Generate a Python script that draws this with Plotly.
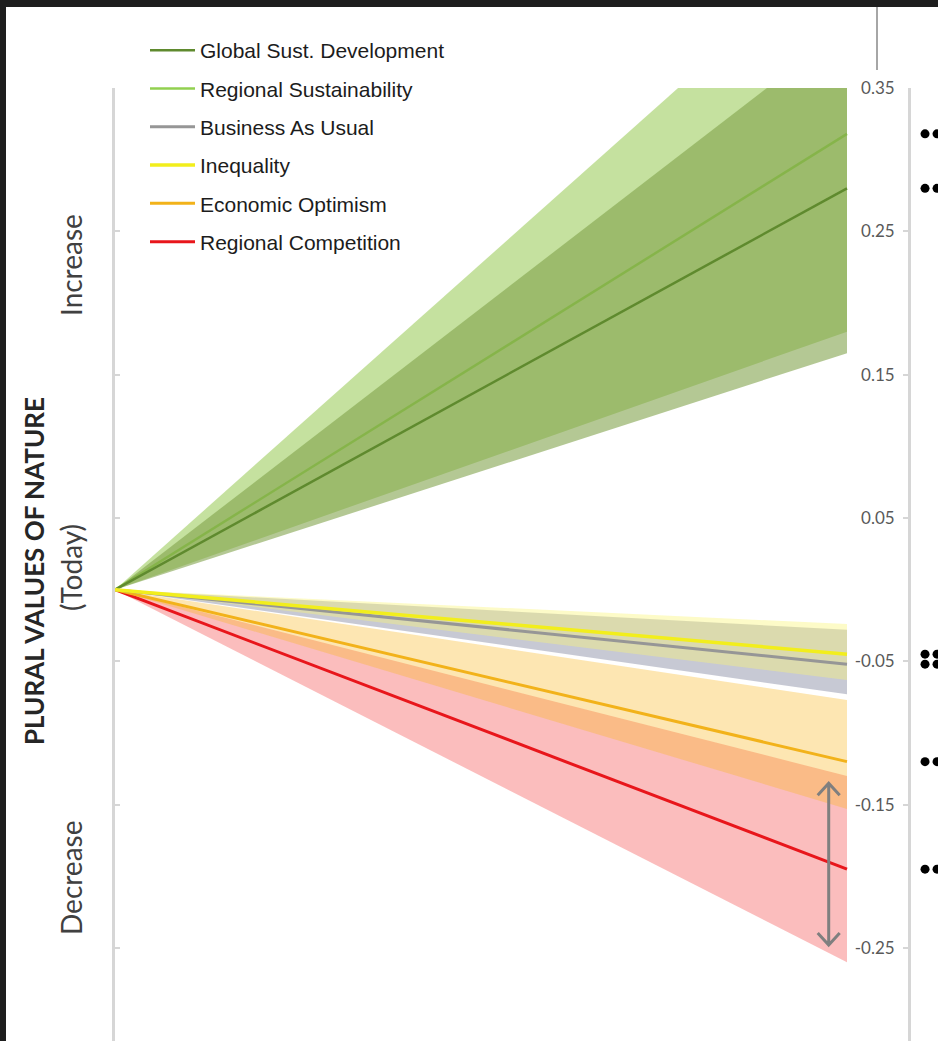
import plotly.graph_objects as go

# ---------------- data ----------------
scenarios = ["Global Sust. Development", "Regional Sustainability", "Business As Usual",
             "Inequality", "Economic Optimism", "Regional Competition"]
x_today, x_end = 0.0, 1.0                # today -> end of projection
start_value = 0.0                        # all scenarios start from today's value
end_mean = [0.280, 0.318, -0.052, -0.045, -0.120, -0.195]
end_low = [0.165, 0.180, -0.073, -0.063, -0.153, -0.260]
end_high = [0.393, 0.455, -0.028, -0.024, -0.077, -0.130]

tick_vals = [-0.25, -0.15, -0.05, 0.05, 0.15, 0.25, 0.35]
tick_text = ["-0.25", "-0.15", "-0.05", "0.05", "0.15", "0.25", "0.35"]

# uncertainty arrow on the Regional Competition band
arrow_x = 0.975
arrow_top, arrow_bottom = -0.135, -0.248

# ---------------- styles ----------------
line_colors = ["#5f8a2e", "#92d050", "#969696", "#f2ee1c", "#f2b21a", "#e8161b"]
line_widths = [2.5, 2.5, 3, 3.5, 3, 3]
band_colors = ["rgba(126,160,70,0.58)", "rgba(150,200,80,0.55)", "rgba(130,135,160,0.45)",
               "rgba(250,245,118,0.40)", "rgba(249,183,34,0.35)", "rgba(245,75,75,0.37)"]
draw_order = [1, 0, 5, 4, 2, 3]
lines_under_bands = [1]          # Regional Sustainability line shows through the GSD band
line_order = [0, 5, 4, 2, 3]
dot_columns = [1.1066, 1.123]

W, H = 938, 1041
ML, MR, MT, MB = 115, 0, 88, 0
PW, PH = W - ML - MR, H - MT - MB
px_per_unit_x = 732.0
px_per_unit_y = 1433.3
y_range = [0.35 - PH / px_per_unit_y, 0.35]
x_range = [0, PW / px_per_unit_x]
right_axis_px = 909


def px_x(p):
    return (p - ML) / PW


def px_y(p):
    return (H - MB - p) / PH


fig = go.Figure()


def add_line(i):
    fig.add_trace(go.Scatter(
        x=[x_today, x_end], y=[start_value, end_mean[i]], mode="lines",
        line=dict(color=line_colors[i], width=line_widths[i]),
        name=scenarios[i], legendgroup=scenarios[i], legendrank=i + 1))


for i in draw_order:
    fig.add_trace(go.Scatter(
        x=[x_today, x_end, x_end, x_today],
        y=[start_value, end_high[i], end_low[i], start_value],
        fill="toself", fillcolor=band_colors[i], mode="lines", line=dict(width=0),
        showlegend=False, hoverinfo="skip", legendgroup=scenarios[i]))
    if i in lines_under_bands:
        add_line(i)
for i in line_order:
    add_line(i)

for cx in dot_columns:
    fig.add_trace(go.Scatter(
        x=[cx] * len(end_mean), y=end_mean, mode="markers",
        marker=dict(color="black", size=9), cliponaxis=False,
        showlegend=False, hoverinfo="skip", yaxis="y2"))

axis_grey = "#d6d6d6"
fig.update_layout(
    width=W, height=H,
    margin=dict(l=ML, r=MR, t=MT, b=MB),
    paper_bgcolor="#1e1e1e",
    plot_bgcolor="rgba(0,0,0,0)",
    xaxis=dict(range=x_range, visible=False, fixedrange=True),
    yaxis=dict(range=y_range, showline=True, linecolor=axis_grey, linewidth=2.5,
               ticks="inside", ticklen=5, tickcolor=axis_grey, tickwidth=1.5,
               tickvals=tick_vals, showticklabels=False, showgrid=False, zeroline=False),
    yaxis2=dict(range=y_range, overlaying="y", side="right", anchor="free",
                position=px_x(right_axis_px),
                showline=True, linecolor=axis_grey, linewidth=2.5,
                ticks="inside", ticklen=5, tickcolor=axis_grey, tickwidth=1.5,
                tickvals=tick_vals, ticktext=tick_text, ticklabelposition="inside",
                ticklabeloverflow="allow", ticklabelstandoff=9,
                tickfont=dict(family="Lato", size=17, color="#595959"),
                showgrid=False, zeroline=False),
    legend=dict(x=px_x(145), y=1 + (MT - 30) / PH, xanchor="left", yanchor="top",
                font=dict(family="Liberation Sans", size=21, color="#1c1c1c"),
                bgcolor="rgba(0,0,0,0)", itemwidth=45, tracegroupgap=8),
    showlegend=True,
)

shapes = [
    dict(type="rect", xref="paper", yref="paper", x0=px_x(6), x1=px_x(W + 2),
         y0=px_y(H + 2), y1=px_y(7), fillcolor="white", line=dict(width=0), layer="below"),
    dict(type="line", xref="paper", yref="paper", x0=px_x(877), x1=px_x(877),
         y0=px_y(7), y1=px_y(70), line=dict(color="#a6a6a6", width=2)),
]
dx, dy = 11 / px_per_unit_x, 12 / px_per_unit_y
arrow_path = (f"M{arrow_x},{arrow_top} L{arrow_x},{arrow_bottom} "
              f"M{arrow_x - dx},{arrow_top - dy} L{arrow_x},{arrow_top} L{arrow_x + dx},{arrow_top - dy} "
              f"M{arrow_x - dx},{arrow_bottom + dy} L{arrow_x},{arrow_bottom} L{arrow_x + dx},{arrow_bottom + dy}")
shapes.append(dict(type="path", xref="x", yref="y", path=arrow_path,
                   line=dict(color="#7f7f7f", width=3)))
fig.update_layout(shapes=shapes)

side_font = dict(family="Lato", size=28, color="#404040")
fig.add_annotation(text="<b>PLURAL VALUES OF NATURE</b>", xref="paper", yref="paper",
                   x=px_x(34), y=px_y(571), textangle=-90, showarrow=False,
                   xanchor="center", yanchor="middle",
                   font=dict(family="Lato", size=26, color="#262626"))
fig.add_annotation(text="(Today)", xref="paper", yref="paper", x=px_x(71), y=px_y(568),
                   textangle=-90, showarrow=False, xanchor="center", yanchor="middle",
                   font=side_font)
fig.add_annotation(text="Increase", xref="paper", yref="paper", x=px_x(71), y=px_y(265),
                   textangle=-90, showarrow=False, xanchor="center", yanchor="middle",
                   font=side_font)
fig.add_annotation(text="Decrease", xref="paper", yref="paper", x=px_x(71), y=px_y(878),
                   textangle=-90, showarrow=False, xanchor="center", yanchor="middle",
                   font=side_font)

fig.write_html("out.html", config={"displayModeBar": False},
               post_script="document.body.style.margin='0';document.body.style.overflow='hidden';")
